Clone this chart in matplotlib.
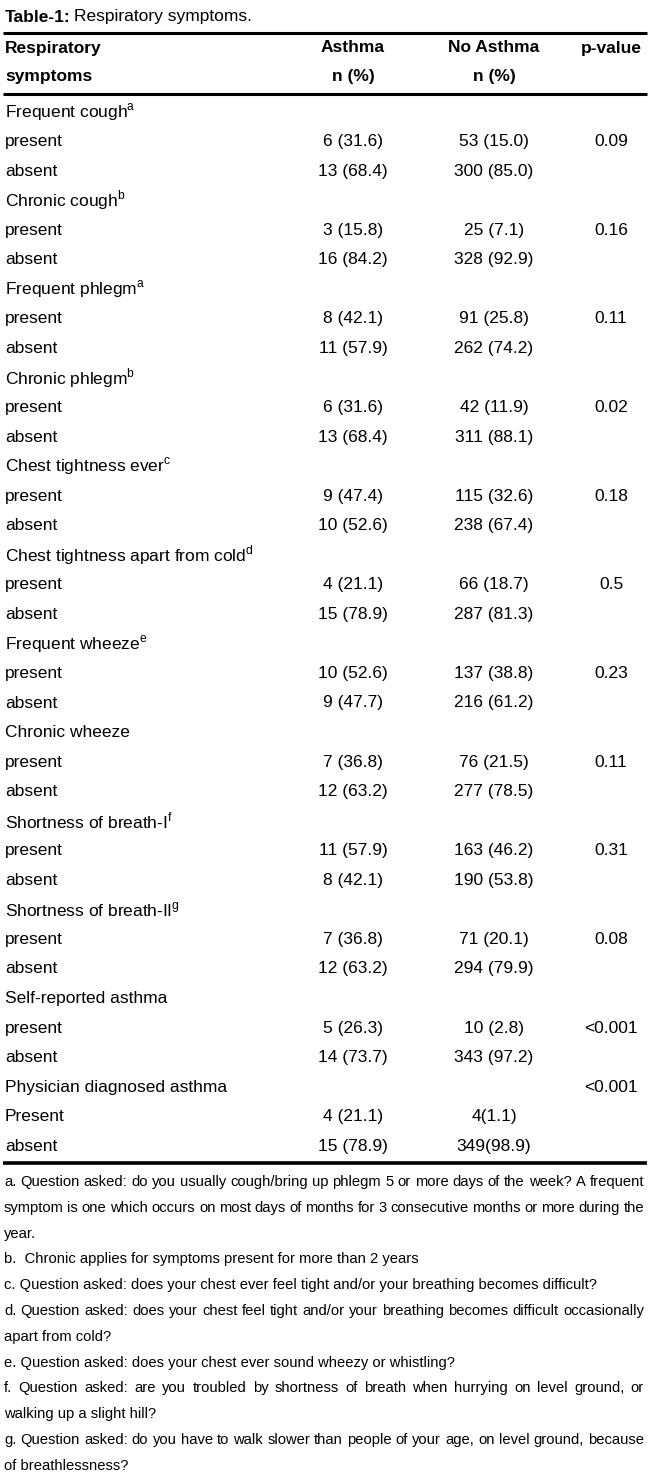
import matplotlib
matplotlib.use("Agg")
import matplotlib.pyplot as plt

plt.rcParams["font.family"] = ["Liberation Sans", "DejaVu Sans"]
plt.rcParams["mathtext.fontset"] = "custom"
plt.rcParams["mathtext.rm"] = "Liberation Sans"

# ---------------------------------------------------------------------------
# Table data
# ---------------------------------------------------------------------------
symptoms = ["Frequent cough", "Chronic cough", "Frequent phlegm", "Chronic phlegm",
            "Chest tightness ever", "Chest tightness apart from cold",
            "Frequent wheeze", "Chronic wheeze", "Shortness of breath-I",
            "Shortness of breath-II", "Self-reported asthma",
            "Physician diagnosed asthma"]
marks = ["a", "b", "a", "b", "c", "d", "e", "", "f", "g", "", ""]
present_label = ["present"] * 11 + ["Present"]
asthma_present = ["6 (31.6)", "3 (15.8)", "8 (42.1)", "6 (31.6)", "9 (47.4)", "4 (21.1)",
                  "10 (52.6)", "7 (36.8)", "11 (57.9)", "7 (36.8)", "5 (26.3)", "4 (21.1)"]
asthma_absent = ["13 (68.4)", "16 (84.2)", "11 (57.9)", "13 (68.4)", "10 (52.6)", "15 (78.9)",
                 "9 (47.7)", "12 (63.2)", "8 (42.1)", "12 (63.2)", "14 (73.7)", "15 (78.9)"]
noasthma_present = ["53 (15.0)", "25 (7.1)", "91 (25.8)", "42 (11.9)", "115 (32.6)", "66 (18.7)",
                    "137 (38.8)", "76 (21.5)", "163 (46.2)", "71 (20.1)", "10 (2.8)", "4(1.1)"]
noasthma_absent = ["300 (85.0)", "328 (92.9)", "262 (74.2)", "311 (88.1)", "238 (67.4)", "287 (81.3)",
                   "216 (61.2)", "277 (78.5)", "190 (53.8)", "294 (79.9)", "343 (97.2)", "349(98.9)"]
p_values = ["0.09", "0.16", "0.11", "0.02", "0.18", "0.5",
            "0.23", "0.11", "0.31", "0.08", "<0.001", "<0.001"]

footnotes = [
    ["a. Question asked: do you usually cough/bring up phlegm 5 or more days of the week? A frequent",
     "symptom is one which occurs on most days of months for 3 consecutive months or more during the",
     "year."],
    ["b.  Chronic applies for symptoms present for more than 2 years"],
    ["c. Question asked: does your chest ever feel tight and/or your breathing becomes difficult?"],
    ["d. Question asked: does your chest feel tight and/or your breathing becomes difficult occasionally",
     "apart from cold?"],
    ["e. Question asked: does your chest ever sound wheezy or whistling?"],
    ["f. Question asked: are you troubled by shortness of breath when hurrying on level ground, or",
     "walking up a slight hill?"],
    ["g. Question asked: do you have to walk slower than people of your age, on level ground, because",
     "of breathlessness?"],
]

W, H = 650, 1482
fig = plt.figure(figsize=(W / 100, H / 100), dpi=100)
ax = fig.add_axes([0, 0, 1, 1])
ax.set_xlim(0, W)
ax.set_ylim(H, 0)
ax.axis("off")

FS = 12.5
X_LABEL, X_A, X_N, X_P = 5, 353, 494, 611

# title
t = ax.text(5, 17, "Table-1:", fontsize=FS, fontweight="bold", va="center")
fig.canvas.draw()
r = fig.canvas.get_renderer()
bb = t.get_window_extent(renderer=r)
ax.text(5 + bb.width + 3, 17, "Respiratory symptoms.", fontsize=FS, va="center")

ax.plot([3, 647], [33, 33], color="black", lw=2.2, solid_capstyle="butt")
ax.plot([3, 647], [94, 94], color="black", lw=2.2, solid_capstyle="butt")

for y, cells in [(48, ["Respiratory", "Asthma", "No Asthma", "p-value"]),
                 (77, ["symptoms", "n (%)", "n (%)", ""])]:
    ax.text(X_LABEL, y, cells[0], fontsize=FS, fontweight="bold", va="center")
    for x, c in zip([X_A, X_N, X_P], cells[1:]):
        ax.text(x, y, c, fontsize=FS, fontweight="bold", va="center", ha="center")

y0, dy = 112, 29.55
for i, name in enumerate(symptoms):
    yh = y0 + 3 * i * dy
    label = name + (r"$^{\mathrm{%s}}$" % marks[i] if marks[i] else "")
    ax.text(X_LABEL, yh, label, fontsize=FS, va="center")
    if i == len(symptoms) - 1:
        ax.text(X_P, yh, p_values[i], fontsize=FS, va="center", ha="center")
    yp, ya = yh + dy, yh + 2 * dy
    ax.text(X_LABEL, yp, present_label[i], fontsize=FS, va="center")
    ax.text(X_LABEL, ya, "absent", fontsize=FS, va="center")
    ax.text(X_A, yp, asthma_present[i], fontsize=FS, va="center", ha="center")
    ax.text(X_A, ya, asthma_absent[i], fontsize=FS, va="center", ha="center")
    ax.text(X_N, yp, noasthma_present[i], fontsize=FS, va="center", ha="center")
    ax.text(X_N, ya, noasthma_absent[i], fontsize=FS, va="center", ha="center")
    if i != len(symptoms) - 1:
        ax.text(X_P, yp, p_values[i], fontsize=FS, va="center", ha="center")

ax.plot([3, 647], [1163, 1163], color="black", lw=2.6, solid_capstyle="butt")

# footnotes, justified when the paragraph continues
FFS = 10.6
inv = ax.transData.inverted()


def width_px(s):
    tt = ax.text(0, 0, s, fontsize=FFS)
    w = tt.get_window_extent(renderer=r).width
    tt.remove()
    return w


y = 1182
for para in footnotes:
    for j, line in enumerate(para):
        last = j == len(para) - 1
        if last:
            ax.text(4, y, line, fontsize=FFS, va="center")
        else:
            words = line.split(" ")
            widths = [width_px(w_) for w_ in words]
            gap = (644 - 4 - sum(widths)) / (len(words) - 1)
            x = 4
            for w_, wd in zip(words, widths):
                if w_:
                    ax.text(x, y, w_, fontsize=FFS, va="center")
                x += wd + gap
        y += 25.8

fig.savefig("out.png", dpi=100, facecolor="white")
